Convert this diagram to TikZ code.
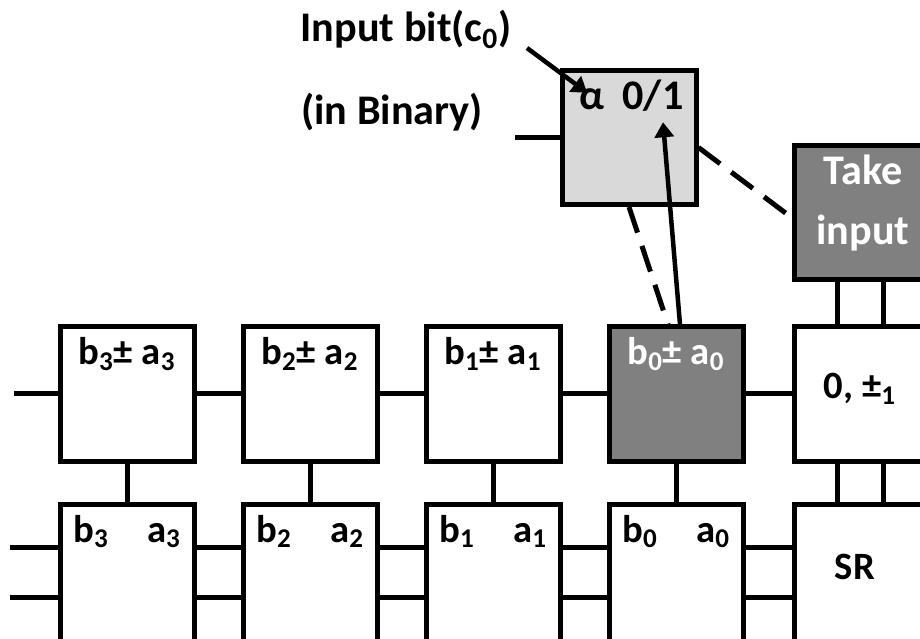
\documentclass[tikz,border=0pt]{standalone}
\usepackage{fontspec}
\setmainfont{Carlito}
\usepackage{tikz}
\usetikzlibrary{arrows.meta,positioning}

\begin{document}
\begin{tikzpicture}[
  font=\bfseries\fontsize{22}{26}\selectfont,
  cell/.style={draw, line width=0.1cm, minimum width=2.68cm, minimum height=2.68cm, fill=white, inner sep=0pt},
  lower/.style={cell, minimum height=3.4cm},
  dark/.style={cell, fill=gray, text=white},
  light/.style={cell, fill=black!15},
  wire/.style={line width=0.1cm},
  arrow/.style={-{Triangle[length=0.3cm, width=0.38cm]}, line width=0.09cm},
  dline/.style={line width=0.1cm, dash pattern=on 0.54cm off 0.28cm},
  lbl/.style={anchor=base, inner sep=0pt},
  big/.style={lbl, font=\bfseries\fontsize{24}{28}\selectfont}
]
\useasboundingbox (0,0) rectangle (18.4,12.76);
\clip (0,0) rectangle (18.4,12.76);

% upper row
\node[cell] (T3) at (2.54,4.88) {};
\node[cell] (T2) at (6.2,4.88) {};
\node[cell] (T1) at (9.86,4.88) {};
\node[dark] (T0) at (13.52,4.88) {};
\node[cell] (Sgn) at (17.22,4.88) {};
% lower row
\node[lower] (B3) at (2.54,0.98) {};
\node[lower] (B2) at (6.2,0.98) {};
\node[lower] (B1) at (9.86,0.98) {};
\node[lower] (B0) at (13.52,0.98) {};
\node[lower] (SR) at (17.22,0.98) {};
% input cell and control
\node[light] (Alpha) at (12.58,10.01) {};
\node[dark] (Take) at (17.22,8.51) {};

% labels
\node[lbl] (tx3) at (2.54,5.46) {b\textsubscript{3}± a\textsubscript{3}};
\node[lbl] (tx2) at (6.2,5.46) {b\textsubscript{2}± a\textsubscript{2}};
\node[lbl] (tx1) at (9.86,5.46) {b\textsubscript{1}± a\textsubscript{1}};
\node[lbl, text=white] (tx0) at (13.52,5.46) {b\textsubscript{0}± a\textsubscript{0}};
\node[lbl] (txS) at (17.2,4.78) {0, ±\textsubscript{1}};
\node[lbl] (b3) at (1.82,1.92) {b\textsubscript{3}};
\node[lbl] (a3) at (3.28,1.92) {a\textsubscript{3}};
\node[lbl] (b2) at (5.48,1.92) {b\textsubscript{2}};
\node[lbl] (a2) at (6.94,1.92) {a\textsubscript{2}};
\node[lbl] (b1) at (9.14,1.92) {b\textsubscript{1}};
\node[lbl] (a1) at (10.6,1.92) {a\textsubscript{1}};
\node[lbl] (b0) at (12.8,1.92) {b\textsubscript{0}};
\node[lbl] (a0) at (14.26,1.92) {a\textsubscript{0}};
\node[lbl] (txR) at (17.1,1.18) {SR};
\node[big, text=white] (txT) at (17.26,9.06) {Take};
\node[big, text=white] (txI) at (17.26,7.86) {input};
\node[big] (al) at (11.84,10.56) {α};
\node[big] (bit) at (13.06,10.56) {0/1};
\node[big] (inbit) at (8.12,11.92) {Input bit(c\textsubscript{0})};
\node[big] (bin) at (7.84,10.26) {(in Binary)};

% free ends
\coordinate (inT) at (0.28,4.88);
\coordinate (inA) at (0.2,1.82);
\coordinate (inB) at (0.2,0.82);
\coordinate (inC) at (10.3,10.01);
\coordinate (cin) at (10.54,11.8);

% upper row wires
\draw[wire] (inT) -- (T3.west);
\draw[wire] (T3) -- (T2);
\draw[wire] (T2) -- (T1);
\draw[wire] (T1) -- (T0);
\draw[wire] (T0) -- (Sgn);
% lower row wires
\draw[wire] (inA) -- (inA -| B3.west);
\draw[wire] (inB) -- (inB -| B3.west);
\draw[wire] ([yshift=0.84cm]B3.east) -- ([yshift=0.84cm]B2.west);
\draw[wire] ([yshift=-0.16cm]B3.east) -- ([yshift=-0.16cm]B2.west);
\draw[wire] ([yshift=0.84cm]B2.east) -- ([yshift=0.84cm]B1.west);
\draw[wire] ([yshift=-0.16cm]B2.east) -- ([yshift=-0.16cm]B1.west);
\draw[wire] ([yshift=0.84cm]B1.east) -- ([yshift=0.84cm]B0.west);
\draw[wire] ([yshift=-0.16cm]B1.east) -- ([yshift=-0.16cm]B0.west);
\draw[wire] ([yshift=0.84cm]B0.east) -- ([yshift=0.84cm]SR.west);
\draw[wire] ([yshift=-0.16cm]B0.east) -- ([yshift=-0.16cm]SR.west);
% between rows
\draw[wire] (T3) -- (B3);
\draw[wire] (T2) -- (B2);
\draw[wire] (T1) -- (B1);
\draw[wire] (T0) -- (B0);
\draw[wire] ([xshift=-0.48cm]Sgn.south) -- ([xshift=-0.48cm]SR.north);
\draw[wire] ([xshift=0.44cm]Sgn.south) -- ([xshift=0.44cm]SR.north);
\draw[wire] ([xshift=-0.48cm]Take.south) -- ([xshift=-0.48cm]Sgn.north);
\draw[wire] ([xshift=0.44cm]Take.south) -- ([xshift=0.44cm]Sgn.north);
\draw[wire] (inC) -- (Alpha.west);

% arrows and dashed links
\draw[arrow] (cin) -- ([xshift=0.16cm,yshift=-0.08cm]al.north west);
\draw[arrow] ([xshift=0.08cm]T0.north) -- ([xshift=0.2cm,yshift=-0.2cm]bit.south);
\draw[dline] (Alpha.south) -- ([xshift=-0.16cm]T0.north);
\draw[dline] ([yshift=-0.2cm]Alpha.east) -- ([yshift=-0.1cm]Take.west);
\end{tikzpicture}
\end{document}
